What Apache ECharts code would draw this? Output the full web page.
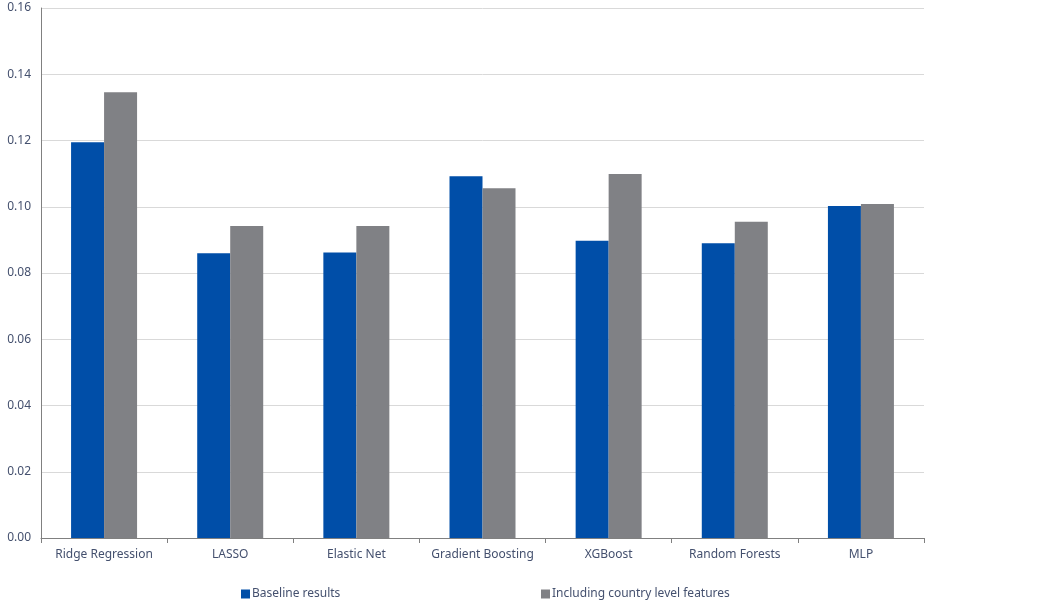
<!DOCTYPE html>
<html><head><meta charset="utf-8">
<script src="https://cdn.jsdelivr.net/npm/echarts@6/dist/echarts.min.js"></script>
<style>html,body{margin:0;padding:0;background:#fff}#c{width:1040px;height:600px}</style>
</head><body><div id="c"></div>
<script>
var categories = ['Ridge Regression','LASSO','Elastic Net','Gradient Boosting','XGBoost','Random Forests','MLP'];
var baseline = [0.1195, 0.0860, 0.0862, 0.1092, 0.0897, 0.0890, 0.1002];
var withCountry = [0.1346, 0.0942, 0.0942, 0.1056, 0.1099, 0.0955, 0.1008];
var seriesNames = ['Baseline results','Including country level features'];
var textColor = '#44506e';
var font = 'Noto Sans';
var chart = echarts.init(document.getElementById('c'));
chart.setOption({
  animation:false,
  grid:{left:41,right:116,top:8,bottom:62,containLabel:false},
  legend:[
    {data:[seriesNames[0]],left:236,top:583,itemWidth:9,itemHeight:9,itemGap:5,icon:'rect',textStyle:{color:textColor,fontSize:12,fontFamily:font,padding:[0,0,0,-3]}},
    {data:[seriesNames[1]],left:536,top:583,itemWidth:9,itemHeight:9,itemGap:5,icon:'rect',textStyle:{color:textColor,fontSize:12,fontFamily:font,padding:[0,0,0,-3]}}
  ],
  xAxis:{type:'category',data:categories,
    axisLine:{lineStyle:{color:'#808080',width:1}},
    axisTick:{show:true,length:5,interval:0,lineStyle:{color:'#808080'}},
    axisLabel:{color:textColor,fontSize:12,fontFamily:font,margin:11,interval:0}},
  yAxis:{type:'value',min:0,max:0.16,interval:0.02,
    axisLine:{show:true,lineStyle:{color:'#808080'}},
    axisTick:{show:false},
    splitLine:{lineStyle:{color:'#d9d9d9'}},
    axisLabel:{color:textColor,fontSize:12,fontFamily:font,margin:10,formatter:function(v){return v.toFixed(2);}}},
  series:[
    {name:seriesNames[0],type:'bar',data:baseline,barWidth:33,barGap:'0%',itemStyle:{color:'#004ea8'}},
    {name:seriesNames[1],type:'bar',data:withCountry,barWidth:33,barGap:'0%',itemStyle:{color:'#808185'}}
  ]
});
</script></body></html>
